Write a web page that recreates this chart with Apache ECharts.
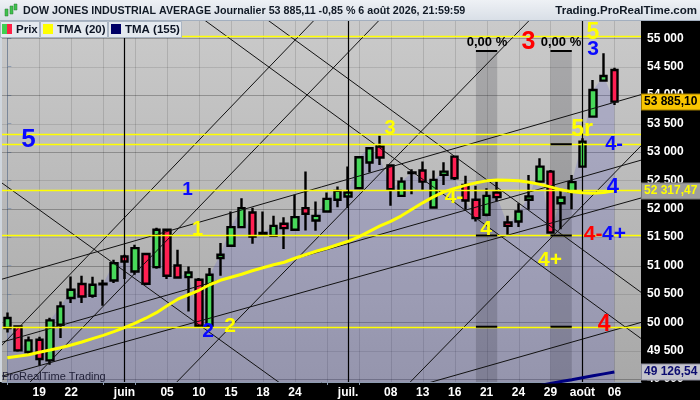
<!DOCTYPE html>
<html><head><meta charset="utf-8">
<script src="https://cdn.jsdelivr.net/npm/echarts@6/dist/echarts.min.js"></script>
<style>html,body{margin:0;padding:0;background:#000}#c{width:700px;height:400px}</style>
</head><body><div id="c"></div>
<script>
// ---------- data ----------
const dates = ['2026-05-14','2026-05-15','2026-05-18','2026-05-19','2026-05-20','2026-05-21','2026-05-22','2026-05-26','2026-05-27','2026-05-28','2026-05-29',
'2026-06-01','2026-06-02','2026-06-03','2026-06-04','2026-06-05','2026-06-08','2026-06-09','2026-06-10','2026-06-11','2026-06-12','2026-06-15','2026-06-16','2026-06-17','2026-06-18','2026-06-22','2026-06-23','2026-06-24','2026-06-25','2026-06-26','2026-06-29','2026-06-30',
'2026-07-01','2026-07-02','2026-07-06','2026-07-07','2026-07-08','2026-07-09','2026-07-10','2026-07-13','2026-07-14','2026-07-15','2026-07-16','2026-07-17','2026-07-20','2026-07-21','2026-07-22','2026-07-23','2026-07-24','2026-07-27','2026-07-28','2026-07-29','2026-07-30','2026-07-31',
'2026-08-03','2026-08-04','2026-08-05','2026-08-06'];
const futureSlots = ['2026-08-07','2026-08-10'];
const tickLabels = [['2026-05-19','19'],['2026-05-22','22'],['2026-06-01','juin'],['2026-06-05','05'],['2026-06-10','10'],['2026-06-15','15'],['2026-06-18','18'],['2026-06-24','24'],['2026-07-01','juil.'],['2026-07-08','08'],['2026-07-13','13'],['2026-07-16','16'],['2026-07-21','21'],['2026-07-24','24'],['2026-07-29','29'],['2026-08-03','août'],['2026-08-06','06']];
const yTicks = [49000,49500,50000,50500,51000,51500,52000,52500,53000,53500,54000,54500,55000];

const opens  = [49900,49929,49478,49695,49331,49959,50428,50674,50469,50670,50738,51160,50896,51202,50973,51629,51001,50797,50750,49941,51132,51348,51677,51933,51560,51523,51735,51629,52011,51793,51951,52157,52215,52362,52813,53094,52760,52227,52630,52672,52021,52596,52918,52420,52157,51893,52285,51757,51775,52157,52478,52654,52098,52303,52742,53622,54255,54443];
const closes = [50077,49507,49682,49355,50034,50281,50574,50456,50662,50680,51043,51072,51307,50680,51629,50820,50790,50878,49941,50838,51190,51677,52011,51511,51575,51699,51659,51852,51911,51875,52174,52315,52285,52907,53066,52901,52345,52478,52640,52478,52508,52654,52538,52144,51835,52227,52204,51699,51951,52215,52742,51582,52197,52468,53182,54091,54337,53885.10];
const lows   = [49823,49484,49449,49238,49255,49725,50340,50340,50433,50293,50692,50762,50838,50653,50943,50762,50773,50192,49900,49920,50820,51335,51660,51383,51540,51510,51290,51610,51617,51612,51930,52028,52011,52340,52637,52772,52051,52210,52257,52333,52000,52420,52508,51981,51775,51870,52127,51541,51677,51981,52460,51560,51641,51993,52730,53610,54240,53827];
const highs  = [50175,49950,49753,49748,50082,50369,50808,50820,50803,50750,51101,51190,51366,51215,51664,51652,51277,50984,50780,50956,51395,51951,52186,52016,51951,51875,51852,52245,52654,52127,52285,52391,52742,52920,53075,53287,52780,52556,52697,52830,52672,52820,52935,52579,52403,52362,52478,51875,52098,52596,52890,52680,52333,52596,53242,54267,54736,54483];
const tma20  = [49378,49405,49431,49475,49514,49554,49602,49654,49713,49771,49836,49906,49985,50073,50170,50293,50407,50486,50565,50662,50741,50794,50847,50908,50961,51014,51058,51128,51190,51251,51304,51366,51427,51506,51603,51699,51778,51875,51990,52104,52209,52297,52359,52412,52456,52491,52508,52503,52491,52465,52429,52385,52333,52297,52280,52271,52285,52317.47];
const tma155 = [null,null,null,null,null,null,null,null,null,null,null,null,null,null,null,null,null,null,null,null,null,null,null,null,null,null,null,null,null,null,null,null,null,null,null,null,null,null,null,null,null,null,null,null,null,null,null,null,null,null,48890,48925,48959,48991,49025,49059,49093,49126.54];

// drawn objects, in (candle index, price) units
const levels = [55040,53312,53136,52324,51529,49923];
const trendLines = [
  [23.16,55498,61.28,50286],[17.22,55498,61.28,49473],[-1.63,52605,27.11,48728],
  [-1.63,49378,29.73,55498],[1.0,48728,35.84,55498],[14.76,48728,49.96,55498],
  [36.68,48728,61.28,53449],[-1.63,50699,61.28,54105],[-1.63,49591,61.28,52950],
  [-1.63,48995,61.28,52282],[36.87,48791,61.28,50094]];
const bands = [[44,46],[51,53]];
const bandTop = 54794;
const bandTicks = [[44,46,54777],[44,46,51529],[44,46,49923],[51,53,54777],[51,53,53136],[51,53,51529],[51,53,49923]];
const notes = [[1.99,53212,'5'],[16.92,52332,'1'],[17.86,51629,'1'],[18.84,49836,'2'],[20.91,49941,'2'],[35.93,53405,'3'],[41.94,52201,'4-'],[44.95,51638,'4'],[48.94,54926,'3'],[45.04,54926,'0,00 %'],[51.99,54926,'0,00 %'],[54.99,55093,'5'],[54.99,54812,'3'],[53.96,53388,'5r'],[56.97,53124,'4-'],[56.87,52385,'4'],[55.0,51550,'4-'],[56.97,51550,'4+'],[50.96,51093,'4+'],[56.03,49958,'4']];
const headerText = 'DOW JONES INDUSTRIAL AVERAGE Journalier 53 885,11 -0,85 % 6 août 2026, 21:59:59';

// ---------- styles ----------
const B='#0a0aff', Y='#ffff00', R='#ff0000', K='#000000';
const noteColor = [B,B,Y,B,Y,Y,Y,Y,R,K,K,Y,B,Y,B,B,R,B,Y,R];
const noteSize  = [26,19,20,21,21,20,21,21,25,13,13,23,21,23,20,22,21,21,21,23];
const tagStyle = [
  {fg:'#000', bg:'#f9c500', bd:'#a07c00'},
  {fg:'#ffff00', bg:'#9e9e9e', bd:'#777'},
  {fg:'#0c0c70', bg:'#c4c4cc', bd:'#8a8a9a'}];
const FONT = '"Liberation Sans", Arial, sans-serif';

// ---------- build ----------
const categories = dates.concat(futureSlots);
const labelOf = {}; tickLabels.forEach(([d,t]) => labelOf[d] = t);
const Y_MIN = 48950, Y_MAX = 55305, X_MIN = -0.5, X_MAX = categories.length - 0.5;
const gridIdx = categories.map((d,i)=>i).filter(i => i % 3 === 0);
const monthIdx = dates.map((d,i)=>i).filter(i => i > 0 && dates[i].slice(5,7) !== dates[i-1].slice(5,7));
const fmt = v => Math.round(v).toString().replace(/\B(?=(\d{3})+(?!\d))/g, ' ');
const fmt2 = v => { const p = v.toFixed(2).split('.'); return p[0].replace(/\B(?=(\d{3})+(?!\d))/g,' ') + ',' + p[1]; };
const candles = dates.map((d,i) => [opens[i], closes[i], lows[i], highs[i]]);
const lastVals = [closes[closes.length-1], tma20[tma20.length-1], tma155[tma155.length-1]];
const px = v => Math.round(v) + 0.5;

function vline(color, width) {
  return (params, api) => {
    const a = api.coord([api.value(0), Y_MAX]), b = api.coord([api.value(0), Y_MIN]);
    return {type:'line', shape:{x1:px(a[0]),y1:a[1],x2:px(a[0]),y2:b[1]}, style:{stroke:color, lineWidth:width}};
  };
}
function hline(color, width) {
  return (params, api) => {
    const a = api.coord([X_MIN, api.value(1)]), b = api.coord([X_MAX, api.value(1)]);
    return {type:'line', shape:{x1:a[0],y1:px(a[1]),x2:b[0],y2:px(a[1])}, style:{stroke:color, lineWidth:width}};
  };
}
const custom = (extra) => Object.assign({type:'custom', xAxisIndex:1, yAxisIndex:0, silent:true, clip:true}, extra);

const chart = echarts.init(document.getElementById('c'), null, {renderer:'canvas', width:700, height:400});
const option = {
  backgroundColor:'#000',
  animation:false,
  grid:{left:2, right:59, top:21, bottom:18, show:true, borderWidth:0, outerBoundsMode:'none',
        backgroundColor:new echarts.graphic.LinearGradient(0,0,0,1,[{offset:0,color:'#cacaca'},{offset:1,color:'#a8a8a8'}])},
  xAxis:[
    {type:'category', data:categories, boundaryGap:true,
     axisLine:{show:true, lineStyle:{color:'#8d9bb0'}},
     axisTick:{show:true, alignWithLabel:true, length:3, interval:(i)=> i%3===0 && !labelOf[categories[i]], lineStyle:{color:'#8d9bb0'}},
     axisLabel:{interval:(i)=>!!labelOf[categories[i]], formatter:(v)=>labelOf[v]||'', color:'#fff', fontWeight:'bold', fontSize:12, fontFamily:FONT, margin:5},
     splitLine:{show:false}},
    {type:'value', min:X_MIN, max:X_MAX, show:false}
  ],
  yAxis:{type:'value', position:'right', min:Y_MIN, max:Y_MAX, splitNumber:12,
     axisLine:{show:true, lineStyle:{color:'#8d9bb0'}},
     axisTick:{show:true, length:4, lineStyle:{color:'#8d9bb0'}},
     axisLabel:{formatter:v => (v % 500 === 0 ? fmt(v) : ''), color:'#fff', fontWeight:'bold', fontSize:12, fontFamily:FONT, margin:6},
     splitLine:{show:false}},
  series:[
    custom({z:1, data:gridIdx.map(i=>[i,Y_MIN]), renderItem:vline('rgba(0,0,0,0.12)',1)}),
    custom({z:1, data:yTicks.map(v=>[X_MIN,v]), renderItem:(p,api)=>hline(api.value(1)%1000===0?'rgba(0,0,0,0.26)':'rgba(0,0,0,0.11)',1)(p,api)}),
    {type:'line', z:2, data:closes, symbol:'none', silent:true, lineStyle:{width:0, opacity:0},
     areaStyle:{color:'rgba(60,60,200,0.25)', origin:'start'}},
    custom({z:2, data:bands.map(b=>[b[0],bandTop,b[1]]), renderItem:(p,api)=>{
      const a = api.coord([api.value(0), api.value(1)]), b = api.coord([api.value(2), Y_MIN]);
      return {type:'rect', shape:{x:a[0], y:a[1], width:b[0]-a[0], height:b[1]-a[1]}, style:{fill:'rgba(30,30,45,0.19)'}};
    }}),
    {type:'candlestick', z:3, data:candles, barWidth:7, silent:true,
     itemStyle:{color:'#48d95a', color0:'#ff1f52', borderColor:'#000', borderColor0:'#000', borderWidth:2.4}},
    custom({z:4, data:trendLines, encode:{x:[0,2], y:[1,3]}, renderItem:(p,api)=>{
      const a = api.coord([api.value(0), api.value(1)]), b = api.coord([api.value(2), api.value(3)]);
      return {type:'line', shape:{x1:a[0],y1:a[1],x2:b[0],y2:b[1]}, style:{stroke:'#111', lineWidth:1}};
    }}),
    custom({z:4, data:levels.map(v=>[X_MIN,v]), renderItem:hline('#ffff00',1.3)}),
    custom({z:4, data:monthIdx.map(i=>[i,Y_MIN]), renderItem:vline('#000',1.2)}),
    {type:'line', z:5, data:tma20, symbol:'none', silent:true, lineStyle:{color:'#ffff00', width:3}},
    {type:'line', z:5, data:tma155, symbol:'none', silent:true, lineStyle:{color:'#000080', width:3}},
    custom({z:5, data:bandTicks, encode:{x:[0,1], y:2}, renderItem:(p,api)=>{
      const a = api.coord([api.value(0), api.value(2)]), b = api.coord([api.value(1), api.value(2)]);
      return {type:'line', shape:{x1:a[0],y1:a[1],x2:b[0],y2:b[1]}, style:{stroke:'#000', lineWidth:2}};
    }}),
    custom({z:6, data:notes.map(n=>[n[0],n[1]]), clip:false, renderItem:(p,api)=>{
      const c = api.coord([api.value(0), api.value(1)]), k = p.dataIndex;
      return {type:'text', x:c[0], y:c[1], style:{text:notes[k][2], fill:noteColor[k], font:'bold '+noteSize[k]+'px '+FONT, align:'center', verticalAlign:'middle'}};
    }}),
    custom({z:20, data:lastVals.map(v=>[X_MAX,v]), clip:false, renderItem:(p,api)=>{
      const c = api.coord([api.value(0), api.value(1)]), k = p.dataIndex, s = tagStyle[k];
      return {type:'text', x:c[0]+1, y:Math.round(c[1]), style:{text:fmt2(lastVals[k]), fill:s.fg, backgroundColor:s.bg, borderColor:s.bd, borderWidth:1,
        padding:[2,3,1,2], font:'bold 12px '+FONT, align:'left', verticalAlign:'middle'}};
    }})
  ],
  graphic:{elements:[
    {type:'rect', z:100, shape:{x:0,y:0,width:700,height:20}, style:{fill:new echarts.graphic.LinearGradient(0,0,0,1,[{offset:0,color:'#eef1f5'},{offset:1,color:'#d9dfe7'}])}},
    {type:'line', z:101, shape:{x1:0,y1:20.5,x2:700,y2:20.5}, style:{stroke:'#a3afbf', lineWidth:1}},
    {type:'rect', z:100, shape:{x:0,y:21,width:2,height:361}, style:{fill:'#cfd6de'}},
    {type:'rect', z:101, shape:{x:5,y:9,width:3,height:7}, style:{fill:'#3fc24f', stroke:'#2a7a30', lineWidth:0.5}},
    {type:'rect', z:101, shape:{x:10,y:6,width:3,height:8}, style:{fill:'#3fc24f', stroke:'#2a7a30', lineWidth:0.5}},
    {type:'rect', z:101, shape:{x:14,y:4,width:3,height:6}, style:{fill:'#3fc24f', stroke:'#2a7a30', lineWidth:0.5}},
    {type:'text', z:101, x:23, y:11, style:{text:headerText, font:'bold 10.7px '+FONT, fill:'#111a26', verticalAlign:'middle'}},
    {type:'text', z:101, x:697, y:11, style:{text:'Trading.ProRealTime.com', font:'bold 11.5px '+FONT, fill:'#111a26', align:'right', verticalAlign:'middle'}},
    {type:'rect', z:100, shape:{x:0.5,y:21.5,width:39,height:16}, style:{fill:'#e4e9ef', stroke:'#aab5c3', lineWidth:1}},
    {type:'rect', z:100, shape:{x:40.5,y:21.5,width:67,height:16}, style:{fill:'#e4e9ef', stroke:'#aab5c3', lineWidth:1}},
    {type:'rect', z:100, shape:{x:108.5,y:21.5,width:73,height:16}, style:{fill:'#e4e9ef', stroke:'#aab5c3', lineWidth:1}},
    {type:'rect', z:101, shape:{x:2,y:24,width:5,height:10}, style:{fill:'#3fcf52'}},
    {type:'rect', z:101, shape:{x:7,y:24,width:5,height:10}, style:{fill:'#ff1f45'}},
    {type:'text', z:101, x:16, y:29.5, style:{text:'Prix', font:'bold 11.5px '+FONT, fill:'#0c1424', verticalAlign:'middle'}},
    {type:'rect', z:101, shape:{x:43,y:24,width:10,height:10}, style:{fill:'#ffff00'}},
    {type:'text', z:101, x:57, y:29.5, style:{text:'TMA (20)', font:'bold 11.5px '+FONT, fill:'#0c1424', verticalAlign:'middle'}},
    {type:'rect', z:101, shape:{x:111,y:24,width:10,height:10}, style:{fill:'#000066'}},
    {type:'text', z:101, x:125, y:29.5, style:{text:'TMA (155)', font:'bold 11.5px '+FONT, fill:'#0c1424', verticalAlign:'middle'}},
    {type:'text', z:50, x:2, y:377, style:{text:'ProRealTime Trading', font:'11px '+FONT, fill:'#22223a', verticalAlign:'middle'}}
  ]}
};
chart.setOption(option);
</script></body></html>
